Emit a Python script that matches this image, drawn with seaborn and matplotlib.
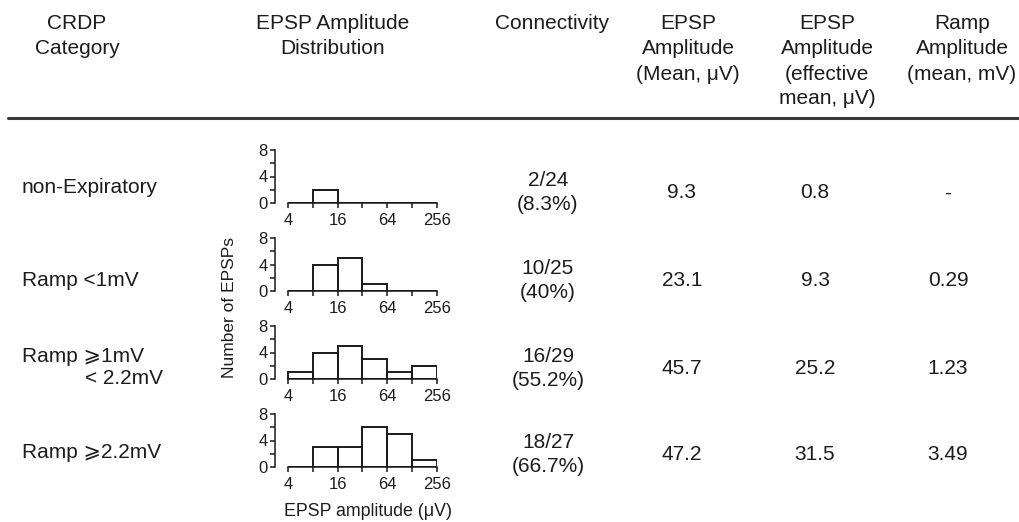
import numpy as np
import pandas as pd
import matplotlib
matplotlib.use("Agg")
import matplotlib.pyplot as plt
from matplotlib.lines import Line2D
from matplotlib.ticker import FixedLocator, NullFormatter
import seaborn as sns

# ---------------- data ----------------
categories = ["non-Expiratory", "Ramp <1mV", "Ramp \u2a7e1mV", "Ramp \u2a7e2.2mV"]
bin_edges = [4, 8, 16, 32, 64, 128, 256]
counts_nonexp = [0, 2, 0, 0, 0, 0]
counts_lt1 = [0, 4, 5, 1, 0, 0]
counts_1to22 = [1, 4, 5, 3, 1, 2]
counts_ge22 = [0, 3, 3, 6, 5, 1]
connectivity = ["2/24", "10/25", "16/29", "18/27"]
connectivity_pct = ["(8.3%)", "(40%)", "(55.2%)", "(66.7%)"]
epsp_mean = ["9.3", "23.1", "45.7", "47.2"]
epsp_eff_mean = ["0.8", "9.3", "25.2", "31.5"]
ramp_mean = ["-", "0.29", "1.23", "3.49"]
x_tick_values = [4, 16, 64, 256]
x_minor_values = [8, 32, 128]
y_tick_values = [0, 4, 8]
y_minor_values = [2, 6]

all_counts = [counts_nonexp, counts_lt1, counts_1to22, counts_ge22]

# ---------------- style ----------------
sns.set_style("ticks")
plt.rcParams["font.family"] = ["Liberation Sans", "DejaVu Sans"]
TXT = "#1c1c1c"

W, H = 1020, 522
fig = plt.figure(figsize=(W / 100, H / 100), dpi=100)
fig.patch.set_facecolor("white")


def ftext(x, y, s, **kw):
    kw.setdefault("color", TXT)
    kw.setdefault("va", "center")
    kw.setdefault("fontsize", 15)
    fig.text(x / W, 1 - y / H, s, **kw)


# header
LS = 25
headers = [
    (77, ["CRDP", "Category"]),
    (333, ["EPSP Amplitude", "Distribution"]),
    (552, ["Connectivity"]),
    (688, ["EPSP", "Amplitude", "(Mean, \u03bcV)"]),
    (827, ["EPSP", "Amplitude", "(effective", "mean, \u03bcV)"]),
    (962, ["Ramp", "Amplitude", "(mean, mV)"]),
]
for xc, lines in headers:
    for i, ln in enumerate(lines):
        ftext(xc, 24 + i * LS, ln, ha="center")

fig.add_artist(Line2D([8 / W, 1.0], [1 - 118 / H, 1 - 118 / H],
                      transform=fig.transFigure, color="#3a3a3a", lw=2.2))

# row labels
ftext(22, 188, categories[0], ha="left")
ftext(22, 280, categories[1], ha="left")
ftext(22, 357, categories[2], ha="left")
ftext(85, 378, "< 2.2mV", ha="left")
ftext(22, 452, categories[3], ha="left")

# table values
row_centers = [193, 281, 368, 455]
for i, yc in enumerate(row_centers):
    ftext(548, yc - 12, connectivity[i], ha="center")
    ftext(548, yc + 12, connectivity_pct[i], ha="center")
    ftext(682, yc, epsp_mean[i], ha="center")
    ftext(815, yc, epsp_eff_mean[i], ha="center")
    ftext(948, yc, ramp_mean[i], ha="center")

# ---------------- histograms ----------------
centers = np.sqrt(np.array(bin_edges[:-1]) * np.array(bin_edges[1:]))
log_edges = [float(v) for v in np.log2(bin_edges)]
ax_left_px, x4_px, x256_px = 275, 288, 437
px_per_oct = (x256_px - x4_px) / np.log2(bin_edges[-1] / bin_edges[0])
xmin = bin_edges[0] / 2 ** ((x4_px - ax_left_px) / px_per_oct)
tops = [150, 238, 326, 414]
hpx = 53

for k, (counts, top) in enumerate(zip(all_counts, tops)):
    ax = fig.add_axes([ax_left_px / W, 1 - (top + hpx) / H,
                       (x256_px - ax_left_px) / W, hpx / H])
    df = pd.DataFrame({"amp": centers, "n": counts})
    sns.histplot(data=df, x="amp", weights="n", bins=log_edges,
                 log_scale=2, fill=False, color="#1a1a1a", linewidth=1.4,
                 ax=ax)
    ax.set_xlim(xmin, bin_edges[-1])
    ax.set_ylim(0, 8)
    ax.set_xlabel("")
    ax.set_ylabel("")
    for s in ["top", "right"]:
        ax.spines[s].set_visible(False)
    ax.spines["bottom"].set_bounds(bin_edges[0], bin_edges[-1])
    for s in ["left", "bottom"]:
        ax.spines[s].set_color("#1a1a1a")
        ax.spines[s].set_linewidth(1.1)
    ax.xaxis.set_major_locator(FixedLocator(x_tick_values))
    ax.set_xticklabels([str(v) for v in x_tick_values])
    ax.xaxis.set_minor_locator(FixedLocator(x_minor_values))
    ax.xaxis.set_minor_formatter(NullFormatter())
    ax.yaxis.set_major_locator(FixedLocator(y_tick_values))
    ax.set_yticklabels([str(v) for v in y_tick_values])
    ax.yaxis.set_minor_locator(FixedLocator(y_minor_values))
    ax.tick_params(which="both", direction="out", length=3.4, width=1.1,
                   color="#1a1a1a", labelcolor=TXT)
    ax.tick_params(axis="x", which="major", labelsize=12, pad=4)
    ax.tick_params(axis="y", which="major", labelsize=12, pad=2)
    ax.patch.set_alpha(0)
    for sp in ax.spines.values():
        sp.set_clip_on(False)

ftext(230, 308, "Number of EPSPs", ha="center", rotation=90, fontsize=12.5)
ftext(368, 511, "EPSP amplitude (\u03bcV)", ha="center", fontsize=12.8)

fig.savefig("out.png", dpi=100, facecolor="white")
